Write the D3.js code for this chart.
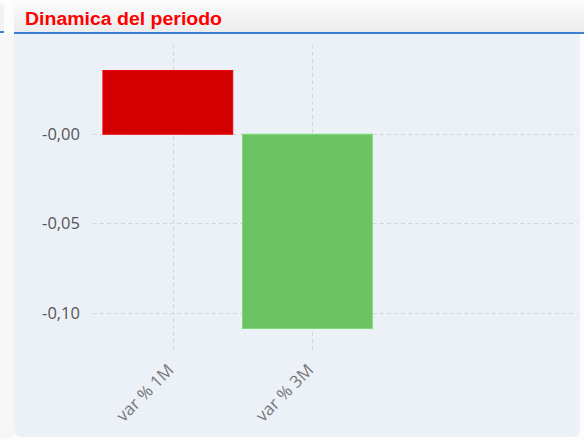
<!DOCTYPE html>
<html>
<head>
<meta charset="utf-8">
<script src="https://cdn.jsdelivr.net/npm/d3@7"></script>
<style>
  body { margin: 0; background: #fff; }
  svg { display: block; }
</style>
</head>
<body>
<script>
// Datos
const categories = ["var % 1M", "var % 3M"];
const values = [0.0357, -0.1088];
const barColors = ["#d40000", "#6cc263"];
const tickValues = [0, -0.05, -0.10];
const tickLabels = ["-0,00", "-0,05", "-0,10"];
const title = "Dinamica del periodo";

const width = 584, height = 440;

const svg = d3.select("body").append("svg")
  .attr("width", width)
  .attr("height", height);

// Fondo exterior y barra lateral izquierda
svg.append("rect").attr("width", width).attr("height", height).attr("fill", "#fcfcfc");
svg.append("rect").attr("x", 0).attr("y", 4).attr("width", 4).attr("height", 27).attr("fill", "#f2f2f2");
svg.append("rect").attr("x", 0).attr("y", 31).attr("width", 4).attr("height", 2).attr("fill", "#3a80d0");
svg.append("rect").attr("x", 0).attr("y", 34).attr("width", 14).attr("height", 404).attr("fill", "#f6f6f6");

// Cabecera con degradado
const defs = svg.append("defs");
const grad = defs.append("linearGradient").attr("id", "hdr").attr("x1", 0).attr("y1", 0).attr("x2", 0).attr("y2", 1);
grad.append("stop").attr("offset", "0%").attr("stop-color", "#f9f9f9");
grad.append("stop").attr("offset", "100%").attr("stop-color", "#ececec");
svg.append("rect").attr("x", 14).attr("y", 4).attr("width", width - 14).attr("height", 28).attr("fill", "url(#hdr)");
svg.append("rect").attr("x", 14).attr("y", 32).attr("width", width - 14).attr("height", 2).attr("fill", "#3a80d0");

svg.append("text")
  .attr("x", 25).attr("y", 25)
  .attr("font-family", "Liberation Sans, Arial, sans-serif")
  .attr("font-size", 18)
  .attr("font-weight", "bold")
  .attr("textLength", 197)
  .attr("lengthAdjust", "spacingAndGlyphs")
  .attr("fill", "#ff0000")
  .text(title);

// Panel del grafico
svg.append("path")
  .attr("d", "M14,34 H580 V429 Q580,437 572,437 H22 Q14,437 14,429 Z")
  .attr("fill", "#ecf1f8");

// Escalas
const x = d3.scaleLinear().domain([-0.571, 2.896]).range([93, 577]);
const y = d3.scaleLinear().domain([-0.122, 0.05]).range([352, 45]);

const grid = svg.append("g")
  .attr("stroke", "#d4d6d9")
  .attr("stroke-dasharray", "4,3")
  .attr("stroke-width", 1);

grid.selectAll("line.h")
  .data(tickValues)
  .join("line")
  .attr("class", "h")
  .attr("x1", 93).attr("x2", 577)
  .attr("y1", d => Math.round(y(d)) + 0.5)
  .attr("y2", d => Math.round(y(d)) + 0.5);

grid.selectAll("line.v")
  .data(categories)
  .join("line")
  .attr("class", "v")
  .attr("x1", (d, i) => Math.round(x(i)) + 0.5)
  .attr("x2", (d, i) => Math.round(x(i)) + 0.5)
  .attr("y1", y.range()[1]).attr("y2", y.range()[0]);

// Barras
svg.append("g")
  .selectAll("rect")
  .data(values)
  .join("rect")
  .attr("x", (d, i) => x(i - 0.5))
  .attr("width", x(0.93) - x(0))
  .attr("y", d => y(Math.max(0, d)))
  .attr("height", d => Math.abs(y(d) - y(0)))
  .attr("fill", (d, i) => barColors[i])
  .attr("stroke", (d, i) => d3.color(barColors[i]).brighter(0.35))
  .attr("stroke-width", 1);

// Etiquetas eje Y
svg.append("g")
  .selectAll("text")
  .data(tickValues)
  .join("text")
  .attr("x", 80)
  .attr("y", d => y(d))
  .attr("dy", "0.35em")
  .attr("text-anchor", "end")
  .attr("font-family", "Open Sans, sans-serif")
  .attr("font-size", 16.5)
  .attr("fill", "#555")
  .text((d, i) => tickLabels[i]);

// Etiquetas eje X
svg.append("g")
  .selectAll("text")
  .data(categories)
  .join("text")
  .attr("transform", (d, i) => `translate(${x(i) - 2},${367}) rotate(-45)`)
  .attr("text-anchor", "end")
  .attr("dy", "0.35em")
  .attr("font-family", "Open Sans, sans-serif")
  .attr("font-size", 17)
  .attr("fill", "#777")
  .text(d => d);
</script>
</body>
</html>
